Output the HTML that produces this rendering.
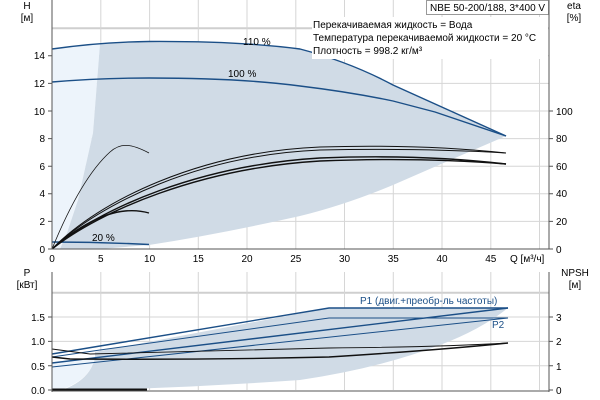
<!DOCTYPE html>
<html><head><meta charset="utf-8"><style>
body{margin:0;background:#fff}
svg{display:block;font-family:"Liberation Sans",sans-serif;font-size:10px}
</style></head><body>
<svg width="600" height="400" viewBox="0 0 600 400">
<g stroke="#d6d6d6" stroke-width="1" fill="none">
<path d="M52 221.4H549M52 193.8H549M52 166.2H549M52 138.6H549M52 111H549M52 83.4H549M52 55.8H549"/>
<path d="M52 28.2H549" stroke="#cfcfcf" stroke-width="2"/>
<path d="M100.8 0V249M149.6 0V249M198.3 0V249M247 0V249M295.8 0V249M344.5 0V249M393.3 0V249M442 0V249M490.8 0V249M539.5 0V249"/>
</g>
<path d="M52 49 Q75 45 100 44 L93 133 L78 200 L67 233 L60 249 L52 249Z" fill="#edf4fb"/>
<path d="M100 44 Q200 38 300 49 Q350 62 393 85 L506 136 Q450 160 393 185 Q345 205 300 216 Q220 234 149 245 L100 249 L60 249 L67 233 L78 200 L93 133Z" fill="#d0dbe6"/>
<g fill="none" stroke="#1b4f87" stroke-width="1.4">
<path d="M52 49 Q100 42 149 41.5 Q240 41 300 49 Q350 62 393 85 L506 136"/>
<path d="M52 82 Q100 78 149 78 Q240 78 300 86 Q350 92 393 101 L435 112 L506 136"/>
<path d="M52 242 Q100 242 149 244.5"/>
</g>
<g fill="none" stroke="#111">
<path d="M52 249 C70 205 90 170 110 152 C120 143 130 143 149 153" stroke-width="0.8"/>
<path d="M52 249 C80 225 105 213 125 211 C135 210 142 211 149 213" stroke-width="1.4"/>
<path d="M52 249 C100 200 200 152 320 147 Q420 144 506 153" stroke-width="1"/>
<path d="M52 249 C100 203 200 155 320 150 Q420 148 506 153" stroke-width="1"/>
<path d="M52 249 C100 208 200 165 320 158 Q420 154 506 164" stroke-width="1.4"/>
<path d="M52 249 C100 211 200 168 320 161 Q420 157 506 164" stroke-width="1.4"/>
</g>
<text x="243" y="45">110 %</text>
<text x="228" y="77">100 %</text>
<text x="92" y="241">20 %</text>
<rect x="312" y="17" width="236" height="42" fill="#fff"/>
<text x="313" y="28">Перекачиваемая жидкость = Вода</text>
<text x="313" y="41">Температура перекачиваемой жидкости = 20 °C</text>
<text x="313" y="54">Плотность = 998.2 кг/м³</text>
<rect x="426.5" y="0.5" width="122" height="14" fill="#fff" stroke="#999"/>
<text x="430" y="11">NBE 50-200/188, 3*400 V</text>
<g stroke="#555" fill="none"><path d="M52 0V249H549M549 0V249"/>
<path d="M549 221.4h4M549 193.8h4M549 166.2h4M549 138.6h4M549 111h4M549 249h4M48 249h4M48 221.4h4M48 193.8h4M48 166.2h4M48 138.6h4M48 111h4M48 83.4h4M48 55.8h4"/></g>
<g text-anchor="end">
<text x="45" y="253">0</text><text x="45" y="225">2</text><text x="45" y="197">4</text><text x="45" y="170">6</text><text x="45" y="142">8</text><text x="45" y="115">10</text><text x="45" y="87">12</text><text x="45" y="59">14</text>
</g>
<g><text x="556" y="253">0</text><text x="556" y="225">20</text><text x="556" y="197">40</text><text x="556" y="170">60</text><text x="556" y="142">80</text><text x="556" y="115">100</text></g>
<text x="27" y="9" text-anchor="middle">H</text><text x="27" y="21" text-anchor="middle">[м]</text>
<text x="574" y="9" text-anchor="middle">eta</text><text x="574" y="21" text-anchor="middle">[%]</text>
<g text-anchor="middle">
<text x="52" y="262">0</text><text x="100.8" y="262">5</text><text x="149.6" y="262">10</text><text x="198.3" y="262">15</text><text x="247" y="262">20</text><text x="295.8" y="262">25</text><text x="344.5" y="262">30</text><text x="393.3" y="262">35</text><text x="442" y="262">40</text><text x="490.8" y="262">45</text>
</g>
<text x="510" y="262">Q [м³/ч]</text>
<g stroke="#d6d6d6" fill="none">
<path d="M52 365.7H549M52 341.4H549M52 317H549"/>
<path d="M52 292.8H549" stroke="#cfcfcf" stroke-width="2"/>
<path d="M100.8 272V390M149.6 272V390M198.3 272V390M247 272V390M295.8 272V390M344.5 272V390M393.3 272V390M442 272V390M490.8 272V390M539.5 272V390"/>
</g>
<path d="M52 390L52 362 L95 358 Q90 380 60 390Z" fill="#edf4fb"/>
<path d="M95 352 L329 308 L508 308 Q480 330 440 345 Q380 368 300 380 Q200 387 100 390 L62 390 Q90 380 95 358Z" fill="#d0dbe6"/>
<g fill="none" stroke="#1b4f87">
<path d="M52 354 L100 346 L329 308 L508 308" stroke-width="1.4"/>
<path d="M52 357 L100 350 L329 318 L508 318" stroke-width="1"/>
<path d="M52 363 L508 308" stroke-width="1.4"/>
<path d="M52 367 L508 318" stroke-width="1"/>
</g>
<g fill="none" stroke="#111">
<path d="M52 349 L90 354 Q250 350 329 348 Q440 347 508 343" stroke-width="0.9"/>
<path d="M52 357 L70 359 Q200 360 329 357 Q440 350 508 343" stroke-width="1.4"/>
<path d="M52 389.5 L147 389.5" stroke-width="2"/>
</g>
<text x="360" y="304" fill="#1b4f87">P1 (двиг.+преобр-ль частоты)</text>
<text x="492" y="328" fill="#1b4f87">P2</text>
<g stroke="#555" fill="none"><path d="M52 272V392M549 272V392M52 391H549"/>
<path d="M48 390h4M48 365.7h4M48 341.4h4M48 317h4M549 390h4M549 365.7h4M549 341.4h4M549 317h4"/></g>
<g text-anchor="end"><text x="45" y="394">0.0</text><text x="45" y="370">0.5</text><text x="45" y="345">1.0</text><text x="45" y="321">1.5</text></g>
<g><text x="556" y="394">0</text><text x="556" y="370">1</text><text x="556" y="345">2</text><text x="556" y="321">3</text></g>
<text x="27" y="276" text-anchor="middle">P</text><text x="27" y="288" text-anchor="middle">[кВт]</text>
<text x="575" y="276" text-anchor="middle">NPSH</text><text x="575" y="288" text-anchor="middle">[м]</text>
</svg>
</body></html>
